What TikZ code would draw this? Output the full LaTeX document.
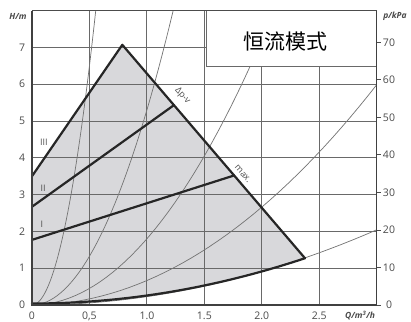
\documentclass[tikz,border=0pt]{standalone}
\usepackage{fontspec}
\setmainfont{Open Sans}
\newfontfamily\cjk{Noto Sans CJK SC}
\definecolor{regfill}{RGB}{216,216,219}
\definecolor{gridc}{RGB}{105,105,105}
\definecolor{thinc}{RGB}{115,115,115}
\definecolor{txtc}{RGB}{75,75,75}
\begin{document}
\begin{tikzpicture}[x=1pt,y=1pt,
  gridline/.style={draw=gridc,line width=0.9pt},
  syscurve/.style={draw=thinc,line width=0.7pt},
  thickline/.style={draw=black!85,line width=2.2pt,line join=round,line cap=round},
  framel/.style={draw=black!75,line width=1.4pt},
  ticklab/.style={text=txtc,font=\fontsize{10.5}{12}\selectfont,inner sep=0pt},
  axlab/.style={text=txtc,font=\fontsize{8.5}{10}\selectfont\bfseries\itshape,inner sep=0pt},
  curvelab/.style={text=txtc,font=\fontsize{9}{10}\selectfont,inner sep=0pt}]
\useasboundingbox (0,0) rectangle (411,321);
\fill[white] (0,0) rectangle (411,321);
\begin{scope}[shift={(32,16)}, x=114.9pt, y=36.8pt]
  % operating region
  \fill[regfill] (0,0.04) -- plot[domain=0:2.376,samples=40] (\x,{0.04+0.218*\x*\x})
     -- (0.786,7.07) -- (0,3.5) -- cycle;
  % grid
  \foreach \q in {0.5,1,1.5,2,2.5} \draw[gridline] (\q,0) -- (\q,8);
  \foreach \h in {1,...,7} \draw[gridline] (0,\h) -- (3,\h);
  % system curves
  \foreach \k in {26,5.3,1.8,0.665} {
    \pgfmathsetmacro\qm{min(3,sqrt(8/\k))}
    \draw[syscurve] plot[domain=0:\qm,samples=40] (\x,{\k*\x*\x});
  }
  \draw[syscurve] plot[domain=0:3,samples=40] (\x,{0.227*\x*\x});
  % mode box
  \filldraw[fill=white,draw=gridc,line width=0.9pt] (1.514,6.476) rectangle (3,8);
  \node (mode) at (2.206,7.155) {\cjk\fontsize{21}{23}\selectfont 恒流模式};
  % thick curves
  \draw[thickline] plot[domain=0:2.376,samples=40] (\x,{0.04+0.218*\x*\x});
  \draw[thickline] (0,3.5) -- (0.786,7.07) -- (2.376,1.27);
  \draw[thickline] (0,2.67) -- (1.235,5.43);
  \draw[thickline] (0,1.77) -- (1.759,3.52);
  % frame
  \draw[draw=black!70,line width=0.9pt] (0,8) -- (3,8);
  \draw[framel] (0,8) -- (0,0) -- (3,0) -- (3,8);
  % right ticks
  \foreach \p in {0,10,...,70} {
    \draw[draw=black!70,line width=0.9pt] (3,\p/9.81) -- ++(4pt,0);
    \node[ticklab] at (3.107,\p/9.81) {\p};
  }
  % left labels
  \foreach \h in {0,...,7} \node[ticklab] at (-0.087,\h) {\h};
  % bottom labels
  \node[ticklab] at (0,-0.3) {0};
  \node[ticklab] at (0.5,-0.3) {0,5};
  \node[ticklab] at (1,-0.3) {1.0};
  \node[ticklab] at (1.5,-0.3) {1.5};
  \node[ticklab] at (2,-0.3) {2.0};
  \node[ticklab] at (2.5,-0.3) {2.5};
  % axis titles
  \node[axlab] (hm) at (-0.122,7.83) {H/m};
  \node[axlab] (pk) at (3.159,7.85) {p/kPa};
  \node[axlab] (qm) at (2.855,-0.28) {Q/m\textsuperscript{3}/h};
  % curve labels
  \node[curvelab] (l3) at (0.104,4.43) {III};
  \node[curvelab] (l2) at (0.096,3.18) {II};
  \node[curvelab] (l1) at (0.087,2.2) {I};
  \node[curvelab,rotate=-49] (dpv) at (1.31,5.68) {Δp-v};
  \node[curvelab,rotate=-49] (mx) at (1.835,3.56) {max.};
\end{scope}
\end{tikzpicture}
\end{document}
